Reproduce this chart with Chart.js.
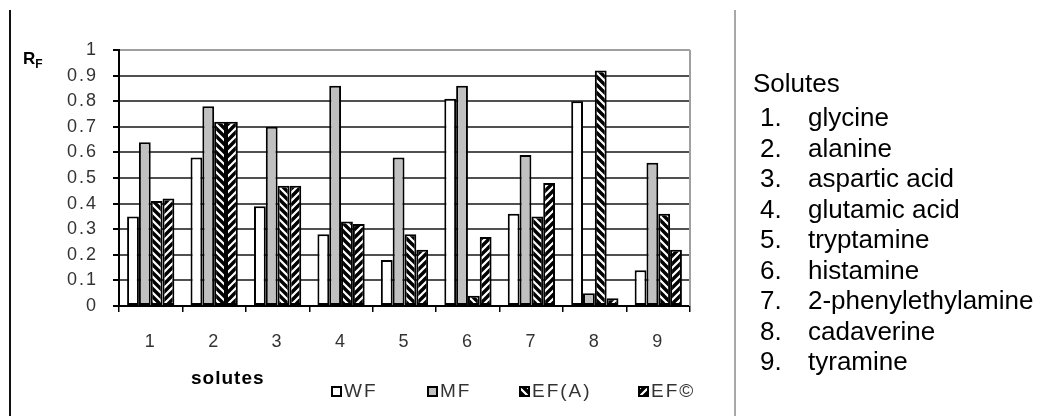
<!DOCTYPE html>
<html>
<head>
<meta charset="utf-8">
<title>RF values of solutes</title>
<script src="https://cdn.jsdelivr.net/npm/chart.js@4.4.1/dist/chart.umd.min.js"></script>
<style>
  html, body { margin: 0; padding: 0; background: #fff; }
  #page { position: relative; width: 1042px; height: 416px; overflow: hidden;
          font-family: "Liberation Sans", Arial, sans-serif; color: #000; }
  #plot { position: absolute; left: 0; top: 0; }
  .rule { position: absolute; top: 10px; bottom: 0; }
  .rule.left { left: 9px; width: 2px; background: #111; }
  .rule.right { left: 734px; width: 2px; background: #a8a8a8; }
  #ytitle { position: absolute; left: 23px; top: 50px; font-weight: bold;
            font-size: 17px; line-height: 17px; white-space: nowrap; }
  #ytitle sub { font-size: 12px; position: relative; top: 4px; vertical-align: baseline; }
  #xtitle { position: absolute; left: 191px; top: 367px; font-weight: bold;
            font-size: 19px; letter-spacing: 1px; line-height: 22px; }
  #key { position: absolute; left: 753px; top: 68px; font-size: 26px; line-height: 30.5px; }
  #key .head { height: 34px; line-height: 30px; }
  #key .row { display: flex; height: 30.5px; white-space: nowrap; }
  #key .num { margin-left: 7px; width: 48px; }
</style>
</head>
<body>
<div id="page">
  <canvas id="plot" width="1042" height="416"></canvas>
  <div class="rule left"></div>
  <div class="rule right"></div>
  <div id="ytitle">R<sub>F</sub></div>
  <div id="xtitle">solutes</div>
  <div id="key"></div>
</div>
<script>
// Solute numbers on the x axis and their names in the side list
const solutes = ['1', '2', '3', '4', '5', '6', '7', '8', '9'];
const soluteNames = ['glycine', 'alanine', 'aspartic acid', 'glutamic acid', 'tryptamine',
                     'histamine', '2-phenylethylamine', 'cadaverine', 'tyramine'];
const seriesNames = ['WF', 'MF', 'EF(A)', 'EF\u00A9'];

// RF values per solute for each eluent
const wf  = [0.35, 0.58, 0.39, 0.28, 0.18, 0.81, 0.36, 0.80, 0.14];
const mf  = [0.64, 0.78, 0.70, 0.86, 0.58, 0.86, 0.59, 0.05, 0.56];
const efA = [0.41, 0.72, 0.47, 0.33, 0.28, 0.04, 0.35, 0.92, 0.36];
const efC = [0.42, 0.72, 0.47, 0.32, 0.22, 0.27, 0.48, 0.03, 0.22];

// y axis runs 0 … 1 in steps of 0.1
const yMin = 0, yMax = 1, yStep = 0.1;

// side list of solute names
const key = document.getElementById('key');
const head = document.createElement('div');
head.className = 'head';
head.textContent = 'Solutes';
key.appendChild(head);
solutes.forEach((n, i) => {
  const row = document.createElement('div');
  row.className = 'row';
  const num = document.createElement('span');
  num.className = 'num';
  num.textContent = n + '.';
  const name = document.createElement('span');
  name.textContent = soluteNames[i];
  row.appendChild(num);
  row.appendChild(name);
  key.appendChild(row);
});

// hatch fills: 'down' gives \\\ stripes, 'up' gives /// stripes
function hatch(dir) {
  const size = 8;
  const c = document.createElement('canvas');
  c.width = size; c.height = size;
  const g = c.getContext('2d');
  g.fillStyle = '#fff';
  g.fillRect(0, 0, size, size);
  g.strokeStyle = '#000';
  g.lineWidth = 3.4;
  g.beginPath();
  for (let k = -1; k <= 1; k++) {
    if (dir === 'down') {
      g.moveTo(-2, -2 + k * size);
      g.lineTo(size + 2, size + 2 + k * size);
    } else {
      g.moveTo(-2, size + 2 + k * size);
      g.lineTo(size + 2, -2 + k * size);
    }
  }
  g.stroke();
  return g.createPattern(c, 'repeat');
}

const fills = ['#ffffff', '#c0c0c0', hatch('down'), hatch('up')];
const values = [wf, mf, efA, efC];

const keyX = [331, 427, 519, 638];
const tickFont = { family: '"Liberation Sans", Arial, sans-serif', size: 18 };

const framePlugin = {
  id: 'frame',
  beforeDraw(chart) {
    chart.ctx.letterSpacing = '2px';
  },
  afterDraw(chart) {
    const ctx = chart.ctx;
    const a = chart.chartArea;
    ctx.save();
    // right edge of the plot area
    ctx.strokeStyle = '#a0a0a0';
    ctx.lineWidth = 2;
    ctx.beginPath();
    ctx.moveTo(a.right, a.top);
    ctx.lineTo(a.right, a.bottom);
    ctx.stroke();
    // series key under the axis
    ctx.font = '19px "Liberation Sans", Arial, sans-serif';
    ctx.textBaseline = 'middle';
    chart.data.datasets.forEach((ds, i) => {
      const x = keyX[i], y = 386;
      ctx.fillStyle = ds.backgroundColor;
      ctx.fillRect(x, y, 11, 11);
      ctx.lineWidth = 2;
      ctx.strokeStyle = '#000';
      ctx.strokeRect(x + 1, y + 1, 9, 9);
      ctx.fillStyle = '#333';
      ctx.fillText(ds.label, x + 13, y + 6);
    });
    ctx.restore();
  }
};

new Chart(document.getElementById('plot'), {
  type: 'bar',
  data: {
    labels: solutes,
    datasets: seriesNames.map((name, i) => ({
      label: name,
      data: values[i],
      backgroundColor: fills[i],
      borderColor: '#000',
      borderWidth: 2,
      borderSkipped: false,
      categoryPercentage: 0.745,
      barPercentage: 1.0
    }))
  },
  options: {
    responsive: false,
    devicePixelRatio: 1,
    animation: false,
    layout: { padding: { left: 0, top: 50, right: 352, bottom: 0 } },
    plugins: {
      legend: { display: false },
      tooltip: { enabled: false }
    },
    scales: {
      x: {
        afterFit(s) { s.height = 110; },
        grid: {
          display: true,
          offset: true,
          drawOnChartArea: false,
          drawTicks: true,
          tickLength: 6,
          tickColor: '#000',
          lineWidth: 1.5
        },
        border: { display: true, color: '#000', width: 2 },
        ticks: {
          color: '#333',
          padding: 19,
          font: tickFont
        }
      },
      y: {
        min: yMin,
        max: yMax,
        afterFit(s) { s.width = 119; },
        grid: {
          color: (c) => (c.tick && Math.abs(c.tick.value - yMax) < 1e-9 ? '#a0a0a0' : '#505050'),
          lineWidth: 2,
          tickLength: 6,
          tickColor: '#000'
        },
        border: { display: true, color: '#000', width: 2 },
        ticks: {
          stepSize: yStep,
          color: '#333',
          padding: 15,
          font: tickFont,
          callback: (v) => String(Number(v.toFixed(1)))
        }
      }
    }
  },
  plugins: [framePlugin]
});
</script>
</body>
</html>
